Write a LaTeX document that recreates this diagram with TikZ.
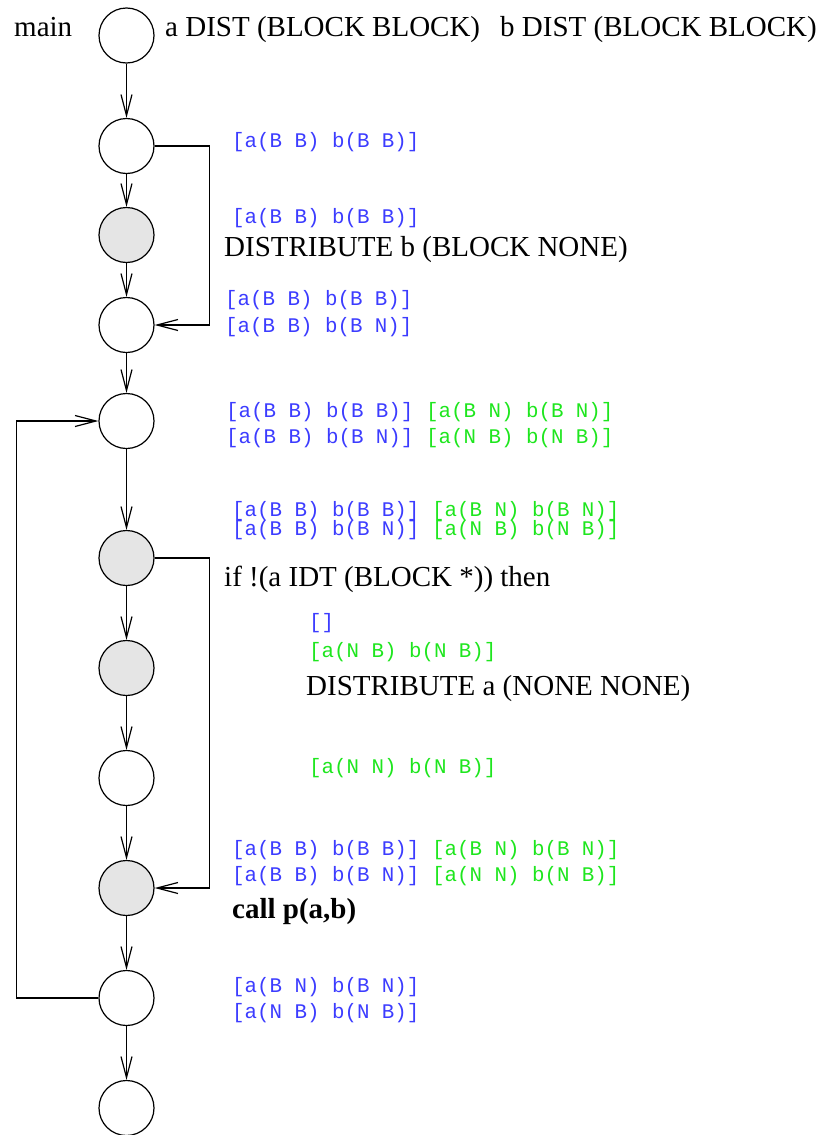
\documentclass[tikz,border=0pt]{standalone}
\usepackage{fontspec}
\setmainfont{Liberation Serif}
\setmonofont{Liberation Mono}
\usetikzlibrary{arrows.meta}
\definecolor{setblue}{RGB}{60,60,255}
\definecolor{setgreen}{RGB}{30,230,30}
\definecolor{stepgray}{RGB}{229,229,229}

\begin{document}
\begin{tikzpicture}[x=1pt,y=-1pt,
  flow/.style={draw=black, line width=1.2pt, circle, minimum size=55pt, inner sep=0pt, fill=white},
  hot/.style={flow, fill=stepgray},
  arr/.style={draw=black, line width=1.2pt, -{Straight Barb[length=21pt,width=11pt,line width=1.2pt]}},
  lbl/.style={anchor=base west, inner sep=0pt, font=\fontsize{29}{31}\selectfont},
  bold/.style={lbl, font=\fontsize{29}{31}\selectfont\bfseries},
  setb/.style={anchor=base west, inner sep=0pt, text=setblue, font=\fontsize{20.8}{22}\selectfont\ttfamily},
  setg/.style={setb, text=setgreen},
]
\useasboundingbox (0,0) rectangle (828,1135);

% flow graph nodes
\node[flow] (n1)  at (126.5,35.5) {};
\node[flow] (n2)  at (126.5,146) {};
\node[hot]  (n3)  at (126.5,235) {};
\node[flow] (n4)  at (126.5,325) {};
\node[flow] (n5)  at (126.5,421) {};
\node[hot]  (n6)  at (126.5,558) {};
\node[hot]  (n7)  at (126.5,668) {};
\node[flow] (n8)  at (126.5,778) {};
\node[hot]  (n9)  at (126.5,888) {};
\node[flow] (n10) at (126.5,998) {};
\node[flow] (n11) at (126.5,1108) {};

% straight-line edges
\foreach \a/\b in {n1/n2,n2/n3,n3/n4,n4/n5,n5/n6,n6/n7,n7/n8,n8/n9,n9/n10,n10/n11}
  \draw[arr] (\a) -- (\b);

% branch edges and loop back edge
\draw[arr] (n2.east) -- ++(55,0) |- (n4.east);
\draw[arr] (n6.east) -- ++(55,0) |- (n9.east);
\draw[arr] (n10.west) -- ++(-82,0) |- (n5.west);

% header
\node[lbl] (tmain) at (14,36) {main};
\node[lbl] (ta) at (165,36) {a DIST (BLOCK BLOCK)};
\node[lbl] (tb) at (500,36) {b DIST (BLOCK BLOCK)};

% annotations
\node[setb] (s2) at (232,147) {[a(B B) b(B B)]};
\node[setb] (s3) at (232,223) {[a(B B) b(B B)]};
\node[lbl]  (d3) at (224,256) {DISTRIBUTE b (BLOCK NONE)};
\node[setb] (s4a) at (225,305) {[a(B B) b(B B)]};
\node[setb] (s4b) at (225,332) {[a(B B) b(B N)]};

\node[setb] (s5a) at (226,417) {[a(B B) b(B B)]};
\node[setg] (g5a) at (426,417) {[a(B N) b(B N)]};
\node[setb] (s5b) at (226,443) {[a(B B) b(B N)]};
\node[setg] (g5b) at (426,443) {[a(N B) b(N B)]};

\node[setb] (s6a) at (232,516) {[a(B B) b(B B)]};
\node[setg] (g6a) at (432,516) {[a(B N) b(B N)]};
\node[setb] (s6b) at (232,535) {[a(B B) b(B N)]};
\node[setg] (g6b) at (432,535) {[a(N B) b(N B)]};

\node[lbl]  (if6) at (224,586) {if !(a IDT (BLOCK *)) then};
\node[setb] (s7) at (309,628) {[]};
\node[setg] (g7) at (309,657) {[a(N B) b(N B)]};
\node[lbl]  (d7) at (306,695) {DISTRIBUTE a (NONE NONE)};
\node[setg] (g8) at (309,773) {[a(N N) b(N B)]};

\node[setb] (s9a) at (232,855) {[a(B B) b(B B)]};
\node[setg] (g9a) at (432,855) {[a(B N) b(B N)]};
\node[setb] (s9b) at (232,881) {[a(B B) b(B N)]};
\node[setg] (g9b) at (432,881) {[a(N N) b(N B)]};
\node[bold] (c9) at (232,918) {call p(a,b)};

\node[setb] (s10a) at (232,992) {[a(B N) b(B N)]};
\node[setb] (s10b) at (232,1018) {[a(N B) b(N B)]};
\end{tikzpicture}
\end{document}
